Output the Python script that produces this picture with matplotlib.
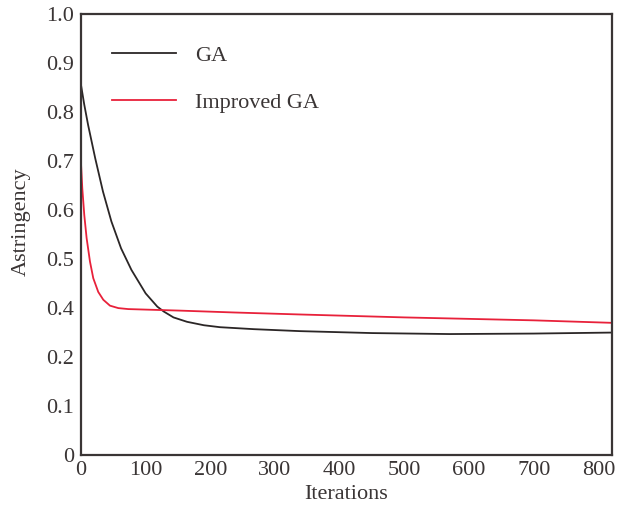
import matplotlib
matplotlib.use("Agg")
import matplotlib.pyplot as plt

# Y axis of the original has evenly spaced labels with 0.3 missing;
# data are given in axis-position units (0..0.9) matching those label slots.
ytick_pos = [0, 0.1, 0.2, 0.3, 0.4, 0.5, 0.6, 0.7, 0.8, 0.9]
ytick_labels = ["0", "0.1", "0.2", "0.4", "0.5", "0.6", "0.7", "0.8", "0.9", "1.0"]
xticks = [0, 100, 200, 300, 400, 500, 600, 700, 800]

ga_x = [0, 5, 11, 22, 34, 47, 62, 78, 100, 118, 128, 143, 164, 190, 215, 267,
        338, 450, 570, 700, 819]
ga_y = [0.756, 0.716, 0.674, 0.606, 0.538, 0.477, 0.422, 0.378, 0.330, 0.303,
        0.293, 0.281, 0.272, 0.265, 0.261, 0.257, 0.253, 0.249, 0.247, 0.248, 0.250]

imp_x = [0, 2.0, 5.1, 8.7, 13.9, 19.0, 26.7, 34.5, 44.8, 57.7, 73, 150, 238, 338,
         500, 700, 819]
imp_y = [0.596, 0.545, 0.490, 0.443, 0.395, 0.361, 0.333, 0.317, 0.305, 0.300, 0.298,
         0.295, 0.291, 0.287, 0.281, 0.275, 0.270]

plt.rcParams['font.family'] = ['Liberation Serif', 'DejaVu Serif']
fig = plt.figure(figsize=(6.22, 5.05), dpi=100)
ax = fig.add_axes([0.1302, 0.099, 0.8537, 0.8727])

ax.plot(ga_x, ga_y, color="#2b2626", lw=1.3, label="GA")
ax.plot(imp_x, imp_y, color="#e8213a", lw=1.3, label="Improved GA")

ax.set_xlim(0, 821)
ax.set_ylim(0, 0.9)
ax.set_xticks(xticks)
ax.set_yticks(ytick_pos)
ax.set_yticklabels(ytick_labels)
ax.tick_params(length=0, labelsize=16, colors="#3a3535")
ax.tick_params(axis="y", pad=5)
ax.tick_params(axis="x", pad=4)
for s in ax.spines.values():
    s.set_linewidth(1.6)
    s.set_color("#3a3535")

ax.set_xlabel("Iterations", fontsize=16, color="#3a3535", labelpad=4)
ax.set_ylabel("Astringency", fontsize=16, color="#3a3535")
ax.yaxis.set_label_coords(-0.094, 0.53)

leg = ax.legend(loc="upper left", bbox_to_anchor=(0.058, 0.93), frameon=False,
                fontsize=16, handlelength=2.9, handletextpad=0.85, labelspacing=1.2,
                borderpad=0, borderaxespad=0)
for t in leg.get_texts():
    t.set_color("#3a3535")

fig.savefig("out.png", dpi=100)
